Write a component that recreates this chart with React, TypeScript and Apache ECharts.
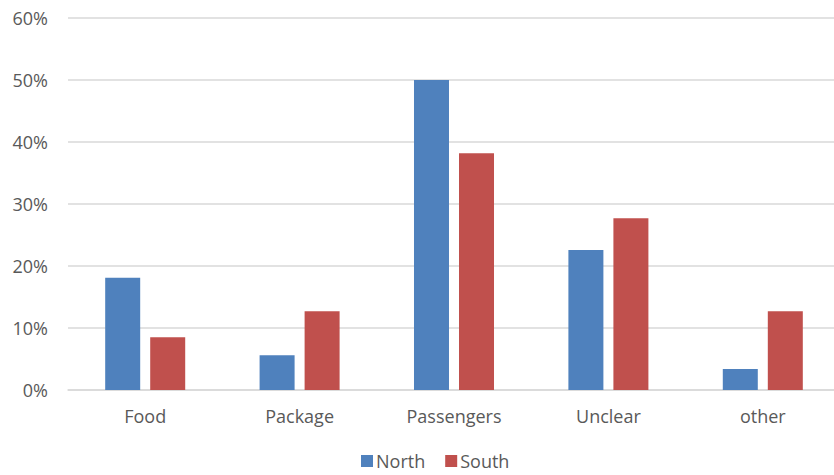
import React, { useEffect, useRef } from "react";
import * as echarts from "echarts";

const categories = ["Food", "Package", "Passengers", "Unclear", "other"];
const north = [18.1, 5.6, 50.0, 22.6, 3.4];
const south = [8.5, 12.7, 38.2, 27.7, 12.7];
const seriesNames = ["North", "South"];

export default function App() {
  const ref = useRef<HTMLDivElement>(null);
  useEffect(() => {
    document.body.style.margin = "0";
    const chart = echarts.init(ref.current!, null, { renderer: "svg" });
    const font = "'Open Sans', sans-serif";
    chart.setOption({
      animation: false,
      backgroundColor: "#ffffff",
      textStyle: { fontFamily: font },
      grid: {
        left: 68,
        width: 772,
        top: 18,
        height: 372,
        containLabel: false,
        outerBoundsMode: "none",
      },
      legend: {
        data: seriesNames,
        top: 446,
        left: 356,
        itemWidth: 12,
        itemHeight: 12,
        itemGap: 20,
        icon: "rect",
        textStyle: { color: "#595959", fontSize: 18, lineHeight: 20, fontFamily: font, padding: [0, 0, 0, -2] },
      },
      xAxis: {
        type: "category",
        data: categories,
        axisLine: { lineStyle: { color: "#d9d9d9", width: 1.5 } },
        axisTick: { show: false },
        axisLabel: { color: "#595959", fontSize: 18, margin: 17, fontFamily: font },
      },
      yAxis: {
        type: "value",
        min: 0,
        max: 60,
        interval: 10,
        axisLine: { show: false },
        axisTick: { show: false },
        splitLine: { lineStyle: { color: "#d9d9d9", width: 1.5 } },
        axisLabel: {
          color: "#595959",
          fontSize: 18,
          margin: 20,
          fontFamily: font,
          formatter: (v: number) => v + "%",
        },
      },
      series: [
        {
          name: seriesNames[0],
          type: "bar",
          data: north,
          barWidth: 35,
          barGap: "28.6%",
          itemStyle: { color: "#4F81BD" },
        },
        {
          name: seriesNames[1],
          type: "bar",
          data: south,
          barWidth: 35,
          barGap: "28.6%",
          itemStyle: { color: "#C0504D" },
        },
      ],
    });
    return () => chart.dispose();
  }, []);
  return <div ref={ref} style={{ width: 834, height: 475 }} />;
}
